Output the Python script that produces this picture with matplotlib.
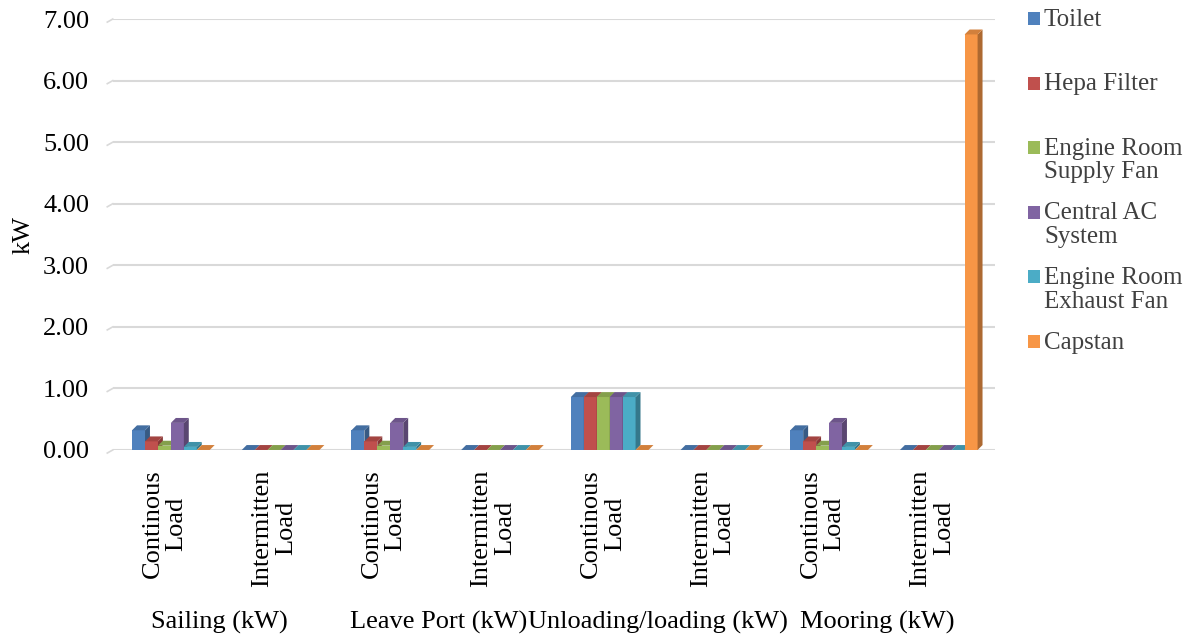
import numpy as np
import matplotlib
matplotlib.use('Agg')
import matplotlib.pyplot as plt
from matplotlib.patches import Polygon, Rectangle
from matplotlib.colors import to_rgb

plt.rcParams['font.family'] = ['Liberation Serif', 'DejaVu Serif']

## Load categories, grouped by operating mode
categories = ['Continous\nLoad', 'Intermitten\nLoad'] * 4
modes = ['Sailing (kW)', 'Leave Port (kW)', 'Unloading/loading (kW)', 'Mooring (kW)']

series = ['Toilet', 'Hepa Filter', 'Engine Room\nSupply Fan', 'Central AC\nSystem',
          'Engine Room\nExhaust Fan', 'Capstan']
colors = ['#4F81BD', '#C0504D', '#9BBB59', '#8064A2', '#4BACC6', '#F79646']

toilet = [0.32, 0, 0.32, 0, 0.86, 0, 0.32, 0]
hepa = [0.14, 0, 0.14, 0, 0.86, 0, 0.14, 0]
supply_fan = [0.07, 0, 0.07, 0, 0.86, 0, 0.07, 0]
central_ac = [0.44, 0, 0.44, 0, 0.86, 0, 0.44, 0]
exhaust_fan = [0.05, 0, 0.05, 0, 0.86, 0, 0.05, 0]
capstan = [0, 0, 0, 0, 0, 0, 0, 6.75]
values = [toilet, hepa, supply_fan, central_ac, exhaust_fan, capstan]


def shade(c, f):
    r, g, b = to_rgb(c)
    return (r * f, g * f, b * f)


fig = plt.figure(figsize=(11.87, 6.37), dpi=100)
ax = fig.add_axes([0.095, 0.2936, 0.743, 0.6765])

x = np.arange(len(categories))
w = 0.118
dx, dy = 0.045, 0.08  # fake 3D depth

ax.set_xlim(-0.47, 7.57)
ax.set_ylim(0, 7)
yt = np.arange(0, 8)
for v in yt:
    ax.axhline(v, color='#d9d9d9', lw=1.5, zorder=0)
    ax.plot([-0.52, -0.47], [v - 0.05, v], color='#d9d9d9', lw=1.2, clip_on=False)

for i, (name, vals, c) in enumerate(zip(series, values, colors)):
    for j, h in enumerate(vals):
        x0 = x[j] - 3 * w + i * w + 0.06
        z = 10 + j * 10 + i
        ax.add_patch(Rectangle((x0, 0), w, h, facecolor=c, edgecolor='none', zorder=z))
        ax.add_patch(Polygon([(x0 + w, 0), (x0 + w + dx, dy), (x0 + w + dx, h + dy), (x0 + w, h)],
                             closed=True, facecolor=shade(c, 0.7), edgecolor='none', zorder=z))
        ax.add_patch(Polygon([(x0, h), (x0 + dx, h + dy), (x0 + w + dx, h + dy), (x0 + w, h)],
                             closed=True, facecolor=shade(c, 0.85), edgecolor='none', zorder=z))

ax.set_yticks(yt)
ax.set_yticklabels(['%.2f' % v for v in yt], fontsize=19)
ax.set_xticks([])
ax.tick_params(length=0)
ax.tick_params(axis='y', pad=17)
for s in ax.spines.values():
    s.set_visible(False)
ax.set_ylabel('kW', fontsize=19, labelpad=6)

# rotated category labels, lines centred on each other
xtr = ax.get_xaxis_transform()
for xj, lab in zip(x, categories):
    ax.text(xj, -0.045, lab, transform=xtr, rotation=90, fontsize=19, ha='center', va='top',
            multialignment='center', linespacing=1.1)

for k, m in enumerate(modes):
    xc = (x[2 * k] + x[2 * k + 1]) / 2
    ax.text(xc, -0.40, m, transform=xtr, fontsize=19, ha='center', va='center')

## Legend, drawn by hand so each entry lines up with its first text line
for i, (name, c) in enumerate(zip(series, colors)):
    ymid = 18.5 + i * 64.6
    fig.patches.append(Rectangle((1028 / 1187, 1 - (ymid + 6.5) / 637), 12 / 1187, 13 / 637,
                                 transform=fig.transFigure, facecolor=c, edgecolor='none'))
    fig.text(1044 / 1187, 1 - (ymid - 10) / 637, name, fontsize=18, va='top', ha='left',
             color='#404040', linespacing=1.1)

plt.savefig('out.png', dpi=100)
plt.close()
